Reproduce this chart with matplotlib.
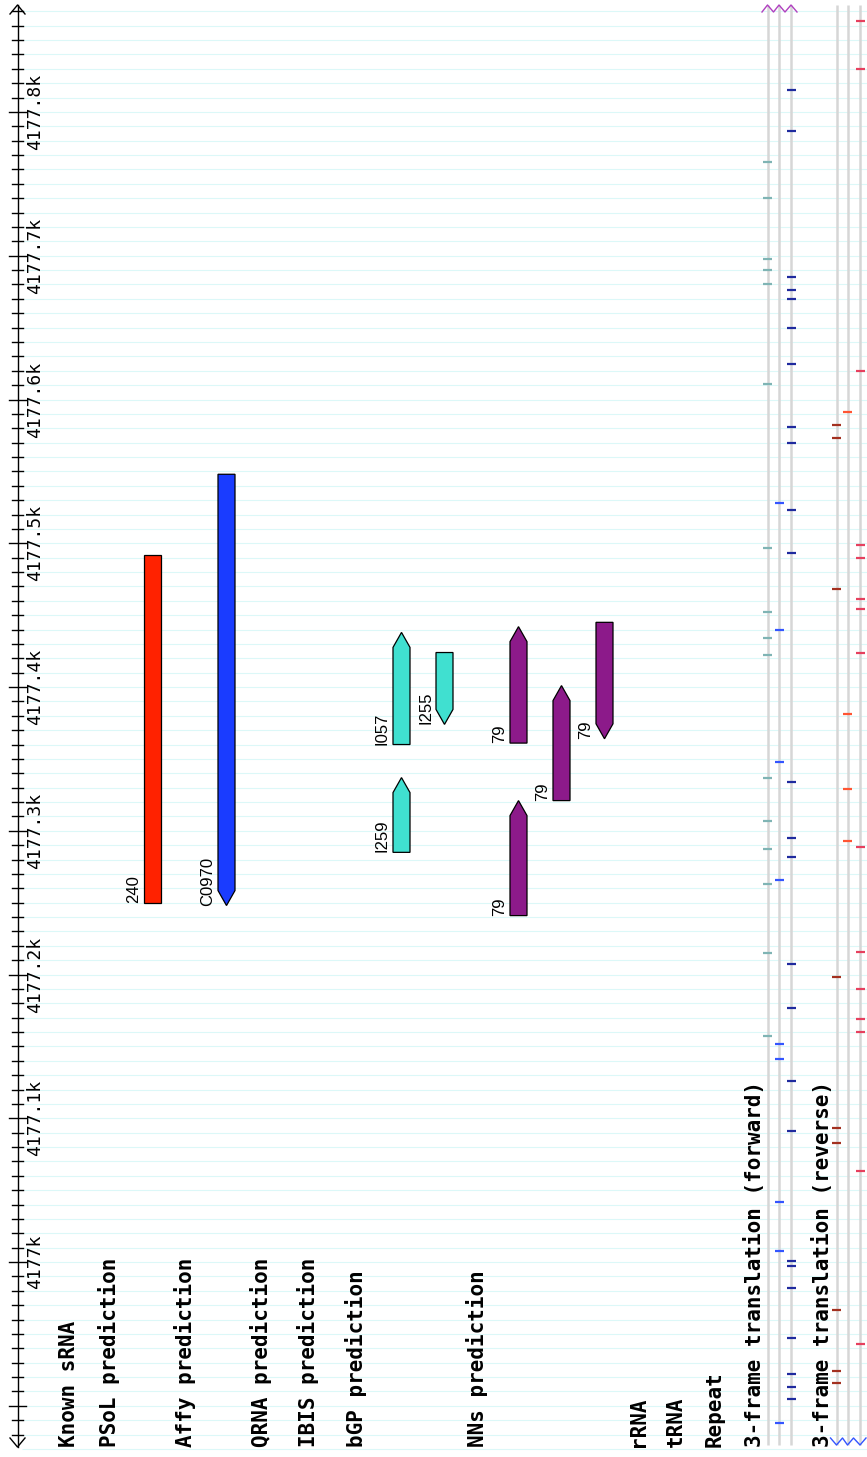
import matplotlib
matplotlib.use("Agg")
import matplotlib.pyplot as plt
from matplotlib.patches import Polygon

# figure size in pixels (dpi 100)
FIG_W = 867
FIG_H = 1457

# genomic window shown, bottom -> top
VIEW_LO = 4176864.4
VIEW_HI = 4177877.9
BP_PER_PX = (VIEW_HI - VIEW_LO) / FIG_H

RULER_FIRST = 4176880
RULER_LAST = 4177870
LABEL_FIRST = 4177000  # lowest major tick that gets a label

TRACK_NAMES = ["Known sRNA", "PSoL prediction", "Affy prediction", "QRNA prediction",
               "IBIS prediction", "bGP prediction", "NNs prediction", "rRNA", "tRNA",
               "Repeat", "3-frame translation (forward)", "3-frame translation (reverse)"]
TRACK_X = [69, 109, 185, 261, 308, 356, 477, 638, 676, 715, 755, 822]

# features
PSOL_START = [4177250]
PSOL_END = [4177492]
PSOL_NAME = ["240"]

AFFY_START = [4177248]
AFFY_END = [4177548]
AFFY_STRAND = [-1]
AFFY_NAME = ["C0970"]

BGP_START = [4177360, 4177374, 4177285]
BGP_END = [4177438, 4177424, 4177337]
BGP_STRAND = [1, -1, 1]
BGP_NAME = ["I057", "I255", "I259"]

NNS_START = [4177361, 4177321, 4177364, 4177241]
NNS_END = [4177442, 4177401, 4177445, 4177321]
NNS_STRAND = [1, 1, -1, 1]
NNS_NAME = ["79", "79", "79", "79"]

# stop codons, one list per reading frame
FWD_FRAME1 = [4177765, 4177740, 4177698, 4177690, 4177680, 4177611, 4177497, 4177452,
              4177434, 4177422, 4177337, 4177307, 4177287, 4177263, 4177215, 4177157]
FWD_FRAME2 = [4177528, 4177440, 4177348, 4177266, 4177152, 4177141, 4177042, 4177008,
              4176888]
FWD_FRAME3 = [4177815, 4177787, 4177685, 4177676, 4177670, 4177650, 4177625, 4177581,
              4177570, 4177523, 4177493, 4177334, 4177295, 4177282, 4177207, 4177177,
              4177126, 4177091, 4177001, 4176997, 4176982, 4176947, 4176922, 4176913,
              4176905]
REV_FRAME1 = [4177582, 4177573, 4177468, 4177198, 4177093, 4177083, 4176967, 4176924,
              4176916]
REV_FRAME2 = [4177591, 4177381, 4177329, 4177293]
REV_FRAME3 = [4177863, 4177830, 4177620, 4177499, 4177490, 4177461, 4177454, 4177424,
              4177289, 4177216, 4177190, 4177169, 4177160, 4177063, 4176943]

FWD_COLORS = ["#7fb4b4", "#3355ff", "#1f2a9e"]
REV_COLORS = ["#a3301f", "#ff5533", "#e6405e"]


def px_to_bp(y_px):
    return VIEW_HI - y_px * BP_PER_PX


def pack_rows(starts, ends):
    # simple bumping: first row whose last feature ends before this one starts
    order = sorted(range(len(starts)), key=lambda i: starts[i])
    row_end = []
    rows = [0] * len(starts)
    for i in order:
        for r, e in enumerate(row_end):
            if starts[i] > e:
                rows[i] = r
                row_end[r] = ends[i]
                break
        else:
            rows[i] = len(row_end)
            row_end.append(ends[i])
    return rows


def draw_feature(ax, xc, start, end, strand, color, name):
    x0, x1 = xc - 8.5, xc + 8.5
    head = 15 * BP_PER_PX
    if strand > 0:
        pts = [(x0, start), (x1, start), (x1, end - head), (xc, end), (x0, end - head)]
    elif strand < 0:
        pts = [(xc, start), (x1, start + head), (x1, end), (x0, end), (x0, start + head)]
    else:
        pts = [(x0, start), (x1, start), (x1, end), (x0, end)]
    ax.add_patch(Polygon(pts, closed=True, facecolor=color, edgecolor="black",
                         linewidth=0.9, zorder=3))
    ax.text(xc - 19, start, name, rotation=90, ha="center", va="bottom",
            fontsize=12, family="Liberation Sans", zorder=4)


def draw_track(ax, x_first, starts, ends, strands, color, names):
    rows = pack_rows(starts, ends)
    for s, e, st, n, r in zip(starts, ends, strands, names, rows):
        draw_feature(ax, x_first + 43 * r, s, e, st, color, n)


fig = plt.figure(figsize=(FIG_W / 100, FIG_H / 100), dpi=100)
fig.patch.set_facecolor("white")
ax = fig.add_axes([0, 0, 1, 1])
ax.set_xlim(0, FIG_W)
ax.set_ylim(VIEW_LO, VIEW_HI)
ax.axis("off")

# light grid every 10 bp
grid = list(range(RULER_FIRST - 10, RULER_LAST + 1, 10))
ax.hlines(grid, 22, FIG_W, color="#dcf8f8", linewidth=0.8, zorder=0)

# ruler
rx = 17.5
top, bottom = px_to_bp(5), px_to_bp(1447)
ax.plot([rx, rx], [bottom, top], color="black", linewidth=1.0, zorder=2)
arm = 9 * BP_PER_PX
ax.plot([rx - 7.5, rx, rx + 7.5], [top - arm, top, top - arm], color="black", lw=1.0, zorder=2)
ax.plot([rx - 7.5, rx, rx + 7.5], [bottom + arm, bottom, bottom + arm], color="black", lw=1.0, zorder=2)
for p in range(RULER_FIRST, RULER_LAST + 1, 10):
    if p % 100 == 0:
        ax.plot([rx - 9, rx + 8], [p, p], color="black", lw=1.0, zorder=2)
        if p >= LABEL_FIRST:
            lab = "%gk" % (p / 1000.0)
            ax.text(35, p, lab, rotation=90, ha="center", va="center",
                    fontsize=13, family="DejaVu Sans Mono", zorder=4)
    else:
        ax.plot([rx - 5.5, rx + 5.5], [p, p], color="black", lw=1.0, zorder=2)

# feature tracks
draw_track(ax, 152.5, PSOL_START, PSOL_END, [0] * len(PSOL_START), "#ff2200", PSOL_NAME)
draw_track(ax, 226.5, AFFY_START, AFFY_END, AFFY_STRAND, "#1a3cff", AFFY_NAME)
draw_track(ax, 401.5, BGP_START, BGP_END, BGP_STRAND, "#40e0d0", BGP_NAME)
draw_track(ax, 518.5, NNS_START, NNS_END, NNS_STRAND, "#8c1a8a", NNS_NAME)

# 3-frame translation tracks
fwd_x = [767.5, 779, 791]
rev_x = [836.5, 847.5, 860]
line_top, line_bot = px_to_bp(5), px_to_bp(1445)
for x in fwd_x + rev_x:
    ax.vlines(x, line_bot, line_top, color="#d6d6d6", linewidth=1.8, zorder=1)

for x, stops, c in zip(fwd_x, [FWD_FRAME1, FWD_FRAME2, FWD_FRAME3], FWD_COLORS):
    ax.hlines(stops, x - 4.5, x + 4.5, color=c, linewidth=1.6, zorder=2)
for x, stops, c in zip(rev_x, [REV_FRAME1, REV_FRAME2, REV_FRAME3], REV_COLORS):
    ax.hlines(stops, x - 4.5, x + 4.5, color=c, linewidth=1.6, zorder=2)

# zigzags marking the strands
zx, zy = [fwd_x[0] - 5.5], [px_to_bp(12)]
for i, x in enumerate(fwd_x):
    zx += [x, x + 6]
    zy += [px_to_bp(5), px_to_bp(12)]
ax.plot(zx, zy, color="#b040c0", linewidth=1.0, zorder=3)
zx, zy = [rev_x[0] - 6], [px_to_bp(1438)]
for x in rev_x:
    zx += [x, x + 6]
    zy += [px_to_bp(1445), px_to_bp(1438)]
ax.plot(zx, zy, color="#3355ff", linewidth=1.0, zorder=3)

# track names
for name, x in zip(TRACK_NAMES, TRACK_X):
    ax.text(x, px_to_bp(1447), name, rotation=90, ha="center", va="bottom",
            fontsize=15, fontweight="bold", family="DejaVu Sans Mono", zorder=4)

fig.savefig("out.png", dpi=100, facecolor="white")
